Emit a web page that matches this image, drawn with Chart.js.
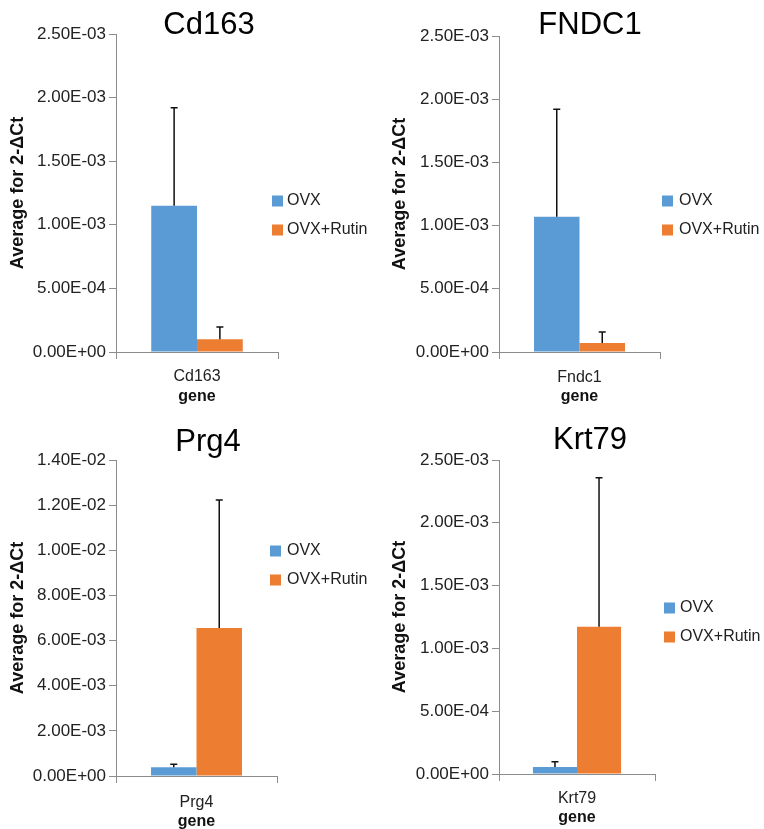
<!DOCTYPE html>
<html>
<head>
<meta charset="utf-8">
<script src="https://cdn.jsdelivr.net/npm/chart.js@4.4.1/dist/chart.umd.min.js"></script>
<style>
  html, body { margin: 0; padding: 0; background: #fff; overflow: hidden; }
  #wrap { position: relative; width: 764px; height: 829px; overflow: hidden; }
  canvas { position: absolute; }
</style>
</head>
<body>
<div id="wrap">
  <canvas id="c0" width="382" height="410" style="left:0px;top:0px"></canvas>
  <canvas id="c1" width="382" height="410" style="left:382px;top:0px"></canvas>
  <canvas id="c2" width="382" height="430" style="left:0px;top:410px"></canvas>
  <canvas id="c3" width="382" height="430" style="left:382px;top:410px"></canvas>
</div>
<script>
// values
const titles = ['Cd163', 'FNDC1', 'Prg4', 'Krt79'];
const genes = ['Cd163', 'Fndc1', 'Prg4', 'Krt79'];
const seriesNames = ['OVX', 'OVX+Rutin'];
const ovxMean = [1.15e-3, 1.07e-3, 3.85e-4, 5.6e-5];
const ovxErr = [7.7e-4, 8.5e-4, 1.35e-4, 4.2e-5];
const rutinMean = [1.0e-4, 7.1e-5, 6.56e-3, 1.173e-3];
const rutinErr = [9.7e-5, 8.7e-5, 5.67e-3, 1.186e-3];
const yMax = [2.5e-3, 2.5e-3, 1.4e-2, 2.5e-3];
const yStep = [5e-4, 5e-4, 2e-3, 5e-4];

const BLUE = '#5b9bd5';
const ORANGE = '#ed7d31';
const AXIS = '#8c8c8c';
const FONT = '"Liberation Sans", Arial, Helvetica, sans-serif';

// panel geometry, local to each canvas
const layouts = [
  { w: 382, h: 410, L: 116, R: 278, T: 34, B: 352, tx: 209, ty: 25, boxX: 272, textX: 287, rows: [201, 230], labelY: 377, geneY: 397 },
  { w: 382, h: 410, L: 117, R: 278, T: 36, B: 352, tx: 208, ty: 25, boxX: 280, textX: 297, rows: [201, 230], labelY: 378, geneY: 397 },
  { w: 382, h: 430, L: 116, R: 277, T: 50, B: 366, tx: 208, ty: 32, boxX: 270, textX: 287, rows: [141, 170], labelY: 393, geneY: 412 },
  { w: 382, h: 430, L: 117, R: 273, T: 50, B: 364, tx: 208, ty: 30, boxX: 282, textX: 298, rows: [198, 227], labelY: 389, geneY: 408 }
];

function sci(v) {
  if (Math.abs(v) < 1e-12) return '0.00E+00';
  const parts = Number(v).toExponential(2).split('e');
  const n = parseInt(parts[1], 10);
  return parts[0] + 'E' + (n < 0 ? '-' : '+') + String(Math.abs(n)).padStart(2, '0');
}

const errorBars = {
  id: 'errorBars',
  afterDatasetsDraw(chart) {
    const ctx = chart.ctx;
    const y = chart.scales.y;
    ctx.save();
    ctx.strokeStyle = '#111';
    ctx.lineWidth = 1.5;
    chart.data.datasets.forEach((ds, i) => {
      const bar = chart.getDatasetMeta(i).data[0];
      const top = y.getPixelForValue(ds.data[0] + ds.err[0]);
      ctx.beginPath();
      ctx.moveTo(bar.x, bar.y);
      ctx.lineTo(bar.x, top);
      ctx.moveTo(bar.x - 3.5, top);
      ctx.lineTo(bar.x + 3.5, top);
      ctx.stroke();
    });
    ctx.restore();
  }
};

const decor = {
  id: 'decor',
  afterDraw(chart, args, o) {
    const ctx = chart.ctx;
    ctx.save();
    ctx.fillStyle = '#000';
    ctx.font = '31px ' + FONT;
    ctx.textAlign = 'center';
    ctx.textBaseline = 'middle';
    ctx.fillText(o.title, o.tx, o.ty);

    ctx.font = '16px ' + FONT;
    ctx.textAlign = 'left';
    chart.data.datasets.forEach((ds, i) => {
      ctx.fillStyle = ds.backgroundColor;
      ctx.fillRect(o.boxX, o.rows[i] - 5.5, 11, 11);
      ctx.fillStyle = '#222';
      ctx.fillText(ds.label, o.textX, o.rows[i]);
    });
    ctx.restore();
  }
};

titles.forEach((title, k) => {
  const g = layouts[k];
  const xH = g.geneY + 9.6 - g.B;
  const labelPad = g.labelY - g.B - 7 - 9.6;

  new Chart(document.getElementById('c' + k), {
    type: 'bar',
    data: {
      labels: [genes[k]],
      datasets: [
        { label: seriesNames[0], data: [ovxMean[k]], err: [ovxErr[k]], backgroundColor: BLUE, borderWidth: 0 },
        { label: seriesNames[1], data: [rutinMean[k]], err: [rutinErr[k]], backgroundColor: ORANGE, borderWidth: 0 }
      ]
    },
    options: {
      responsive: false,
      animation: false,
      devicePixelRatio: 1,
      categoryPercentage: 0.565,
      barPercentage: 1.0,
      layout: {
        padding: { top: g.T, left: 0, right: g.w - g.R, bottom: g.h - g.B - xH }
      },
      plugins: {
        legend: { display: false },
        tooltip: { enabled: false },
        decor: { title: title, tx: g.tx, ty: g.ty, boxX: g.boxX, textX: g.textX, rows: g.rows }
      },
      scales: {
        x: {
          grid: { offset: true, drawOnChartArea: false, tickLength: 7, color: AXIS },
          border: { color: AXIS, width: 1 },
          ticks: { font: { family: FONT, size: 16 }, color: '#222', padding: labelPad },
          title: { display: true, text: 'gene', color: '#111', font: { family: FONT, size: 16, weight: 'bold' }, padding: { top: 0, bottom: 0 } },
          afterFit(s) { s.height = xH; }
        },
        y: {
          min: 0,
          max: yMax[k],
          grid: { drawOnChartArea: false, tickLength: 7, color: AXIS },
          border: { color: AXIS, width: 1 },
          ticks: { stepSize: yStep[k], font: { family: FONT, size: 17 }, color: '#222', padding: 3, callback: sci },
          title: { display: true, text: 'Average for 2-ΔCt', color: '#111', font: { family: FONT, size: 18, weight: 'bold' }, padding: { top: 7, bottom: 0 } },
          afterFit(s) { s.width = g.L; }
        }
      }
    },
    plugins: [errorBars, decor]
  });
});
</script>
</body>
</html>
